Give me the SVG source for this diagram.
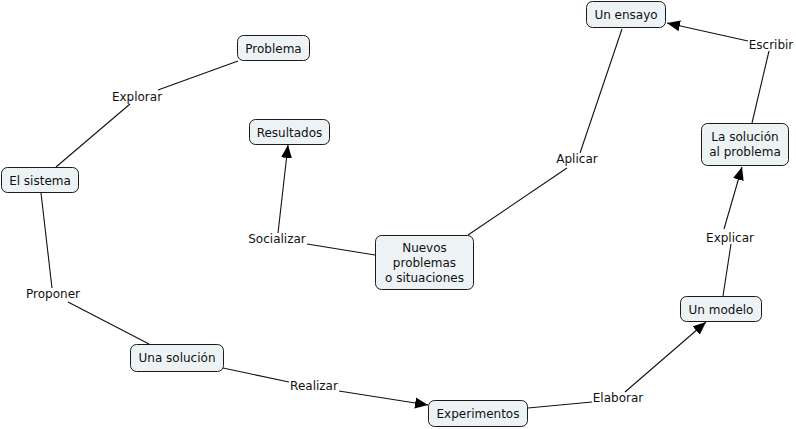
<svg xmlns="http://www.w3.org/2000/svg" width="796" height="429" viewBox="0 0 796 429">
<style>
.n rect{fill:#edf3f5;stroke:#1a1a1a;stroke-width:1}
text{font-family:"DejaVu Sans",Verdana,sans-serif;font-size:12px;fill:#111;text-anchor:middle}
.c line{stroke:#111;stroke-width:1.1;fill:none}
.l rect{fill:#fff}
</style>
<defs>
<marker id="a" markerUnits="userSpaceOnUse" markerWidth="14" markerHeight="12" refX="13" refY="5.5" orient="auto" viewBox="0 0 14 11">
<path d="M0,0 L13,5.5 L0,11 Z" fill="#000"/>
</marker>
</defs>
<rect width="796" height="429" fill="#fff"/>
<g class="c" id="connectors">
<line x1="238" y1="61" x2="158" y2="90"/>
<line x1="130" y1="104" x2="56" y2="167"/>
<line x1="41" y1="193" x2="52" y2="288"/>
<line x1="68" y1="302" x2="149" y2="344"/>
<line x1="223" y1="368" x2="289" y2="382"/>
<line x1="339" y1="391" x2="428" y2="405" marker-end="url(#a)"/>
<line x1="528" y1="408" x2="592" y2="402"/>
<line x1="625" y1="392" x2="706" y2="322" marker-end="url(#a)"/>
<line x1="723" y1="296" x2="731" y2="244"/>
<line x1="724" y1="229" x2="742" y2="167" marker-end="url(#a)"/>
<line x1="752" y1="123" x2="769" y2="51"/>
<line x1="748" y1="41" x2="667" y2="23" marker-end="url(#a)"/>
<line x1="622" y1="29" x2="580" y2="153"/>
<line x1="567" y1="168" x2="468" y2="235"/>
<line x1="375" y1="255" x2="307" y2="244"/>
<line x1="278" y1="233" x2="288" y2="145" marker-end="url(#a)"/>
</g>
<g id="labels">
<text x="137" y="101">Explorar</text>
<text x="277" y="243">Socializar</text>
<text x="53" y="298">Proponer</text>
<text x="314" y="390">Realizar</text>
<text x="618" y="402">Elaborar</text>
<text x="730" y="242">Explicar</text>
<text x="577" y="163">Aplicar</text>
<text x="771" y="49">Escribir</text>
</g>
<g class="n" id="problema"><rect x="237.5" y="35.5" width="72" height="25" rx="6"/><text x="273.5" y="52.5">Problema</text></g>
<g class="n" id="resultados"><rect x="249.5" y="119.5" width="80" height="25" rx="6"/><text x="289.5" y="136.5">Resultados</text></g>
<g class="n" id="el-sistema"><rect x="1.5" y="167.5" width="77" height="25" rx="6"/><text x="40" y="184.5">El sistema</text></g>
<g class="n" id="un-ensayo"><rect x="586.5" y="1.5" width="79" height="26" rx="6"/><text x="626" y="18.5">Un ensayo</text></g>
<g class="n" id="la-solucion"><rect x="701.5" y="123.5" width="87" height="42" rx="6"/><text x="745" y="141">La solución</text><text x="745" y="156">al problema</text></g>
<g class="n" id="nuevos"><rect x="375.5" y="235.5" width="98" height="54" rx="6"/><text x="424.5" y="252">Nuevos</text><text x="424.5" y="267">problemas</text><text x="424.5" y="282">o situaciones</text></g>
<g class="n" id="una-solucion"><rect x="130.5" y="344.5" width="93" height="27" rx="6"/><text x="177" y="362">Una solución</text></g>
<g class="n" id="experimentos"><rect x="428.5" y="400.5" width="99" height="26" rx="6"/><text x="478" y="417.5">Experimentos</text></g>
<g class="n" id="un-modelo"><rect x="680.5" y="296.5" width="81" height="25" rx="6"/><text x="721" y="313.5">Un modelo</text></g>
</svg>
